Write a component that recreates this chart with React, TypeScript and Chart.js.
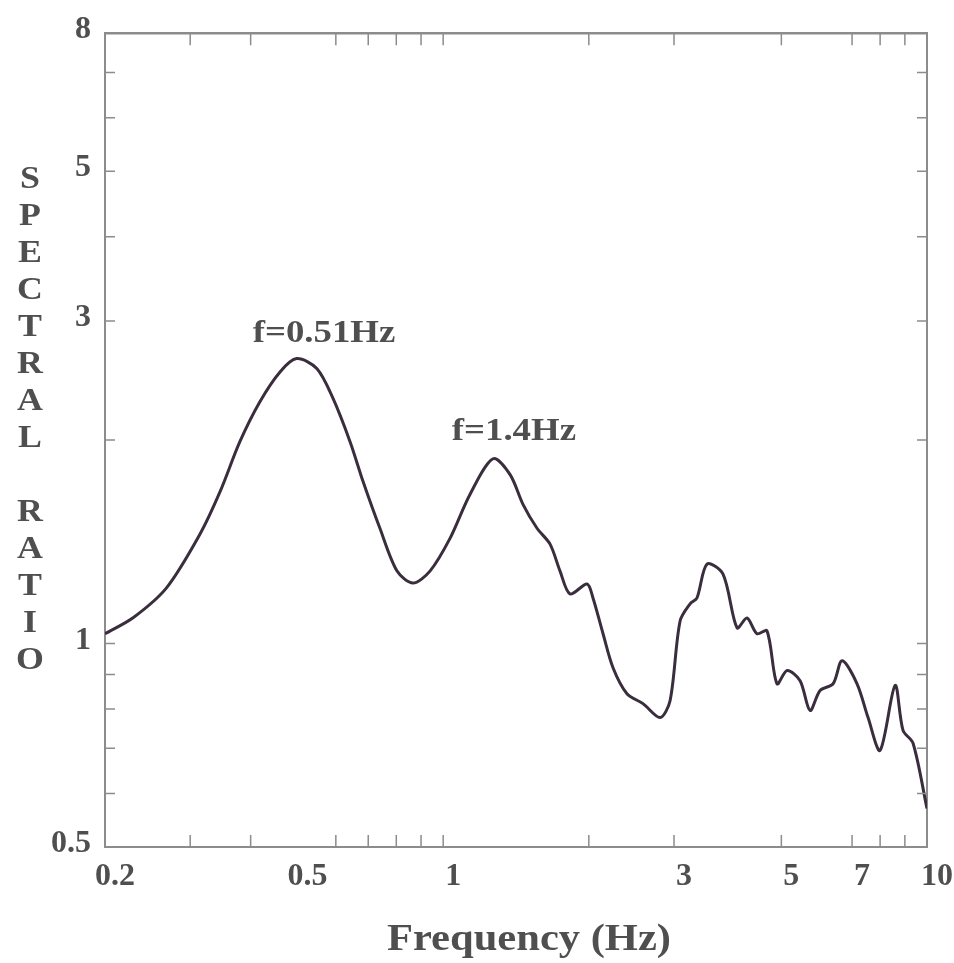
import React, { useEffect, useRef } from "react";
import { Chart, registerables } from "chart.js";

Chart.register(...registerables);

// ---- data ----
const freqHz = [
  0.2, 0.229, 0.268, 0.314, 0.346, 0.38, 0.418, 0.46, 0.498, 0.548, 0.592,
  0.642, 0.683, 0.74, 0.803, 0.866, 0.939, 1.033, 1.136, 1.268, 1.375, 1.462,
  1.563, 1.663, 1.744, 1.829, 1.983, 2.04, 2.14, 2.244, 2.398, 2.588, 2.808,
  2.944, 3.088, 3.238, 3.346, 3.51, 3.788, 4.05, 4.246, 4.454, 4.67, 4.898,
  5.138, 5.466, 5.732, 6.012, 6.396, 6.676, 7.168, 7.554, 7.998, 8.592, 8.922,
  9.358, 10,
];
const spectralRatio = [
  1.034, 1.093, 1.209, 1.45, 1.679, 1.989, 2.279, 2.523, 2.64, 2.552, 2.305,
  1.989, 1.737, 1.481, 1.28, 1.229, 1.28, 1.431, 1.662, 1.877, 1.778, 1.607,
  1.481, 1.403, 1.28, 1.184, 1.225, 1.168, 1.034, 0.921, 0.843, 0.815, 0.777,
  0.823, 1.08, 1.145, 1.168, 1.311, 1.267, 1.055, 1.091, 1.034, 1.044, 0.872,
  0.912, 0.881, 0.796, 0.852, 0.872, 0.943, 0.872, 0.777, 0.695, 0.867, 0.744,
  0.712, 0.57,
];

const xLabelValues = [0.2, 0.5, 1, 3, 5, 7, 10];
const xLabelTexts = ["0.2", "0.5", "1", "3", "5", "7", "10"];
const yLabelValues = [0.5, 1, 3, 5, 8];
const yLabelTexts = ["0.5", "1", "3", "5", "8"];
const xTickMarks = [0.3, 0.4, 0.6, 0.7, 0.8, 0.9, 1, 2, 3, 5, 7, 8, 9];
const yTickMarks = [0.6, 0.7, 0.8, 0.9, 1, 2, 3, 4, 5, 6, 7];

const peakLabels = ["f=0.51Hz", "f=1.4Hz"];
const peakLabelX = [0.567, 1.4];
const peakLabelY = [2.79, 2.0];

const yTitle = "SPECTRAL RATIO";
const xTitle = "Frequency (Hz)";

const AXIS = "#8c8c8c";
const TEXT = "#4f4f4f";
const LINE = "#3a2d3d";
const SERIF = '"Liberation Serif", "Times New Roman", serif';

const decorPlugin = {
  id: "decor",
  afterDraw(chart: any) {
    const { ctx, chartArea: ca, scales } = chart;
    const xs = scales.x;
    const ys = scales.y;
    ctx.save();
    ctx.strokeStyle = AXIS;
    ctx.lineWidth = 1.5;
    ctx.beginPath();
    xTickMarks.forEach((v) => {
      const p = xs.getPixelForValue(v);
      ctx.moveTo(p, ca.bottom);
      ctx.lineTo(p, ca.bottom - 12);
      ctx.moveTo(p, ca.top);
      ctx.lineTo(p, ca.top + 12);
    });
    yTickMarks.forEach((v) => {
      const p = ys.getPixelForValue(v);
      ctx.moveTo(ca.left, p);
      ctx.lineTo(ca.left + 10, p);
      ctx.moveTo(ca.right, p);
      ctx.lineTo(ca.right - 10, p);
    });
    ctx.stroke();

    // peak annotations
    ctx.fillStyle = TEXT;
    ctx.font = `bold 32px ${SERIF}`;
    ctx.textAlign = "center";
    ctx.textBaseline = "alphabetic";
    peakLabels.forEach((t, i) => {
      const px = xs.getPixelForValue(peakLabelX[i]);
      const py = ys.getPixelForValue(peakLabelY[i]);
      ctx.save();
      ctx.translate(px, py);
      ctx.scale(1.15, 1);
      ctx.fillText(t, 0, 0);
      ctx.restore();
    });

    // x-axis title
    ctx.font = `bold 38px ${SERIF}`;
    ctx.textBaseline = "middle";
    ctx.save();
    ctx.translate((ca.left + ca.right) / 2 + 13, 940);
    ctx.scale(1.12, 1);
    ctx.fillText(xTitle, 0, 0);
    ctx.restore();

    // stacked y-axis title
    ctx.font = `bold 32px ${SERIF}`;
    Array.from(yTitle).forEach((ch, i) => {
      if (ch === " ") return;
      ctx.save();
      ctx.translate(30, 180 + i * 37);
      ctx.scale(1.12, 1);
      ctx.fillText(ch, 0, 0);
      ctx.restore();
    });
    ctx.restore();
  },
};

export default function App() {
  const ref = useRef<HTMLCanvasElement | null>(null);

  useEffect(() => {
    document.body.style.margin = "0";
    const canvas = ref.current;
    if (!canvas) return;
    const tickFont = { family: SERIF, size: 32, weight: "bold" as const };
    const chart = new Chart(canvas, {
      type: "line",
      data: {
        datasets: [
          {
            data: freqHz.map((f, i) => ({ x: f, y: spectralRatio[i] })),
            borderColor: LINE,
            borderWidth: 3,
            pointRadius: 0,
            tension: 0.3,
            fill: false,
          },
        ],
      },
      options: {
        responsive: false,
        animation: false,
        layout: { padding: 0 },
        plugins: {
          legend: { display: false },
          tooltip: { enabled: false },
        },
        scales: {
          x: {
            type: "logarithmic",
            position: "bottom",
            min: 0.2,
            max: 10,
            afterBuildTicks: (s: any) => {
              s.ticks = xLabelValues.map((v) => ({ value: v }));
            },
            afterFit: (s: any) => {
              s.height = 116;
            },
            grid: { display: false, drawTicks: false },
            border: { display: true, color: AXIS, width: 2 },
            ticks: {
              autoSkip: false,
              maxRotation: 0,
              padding: 11,
              labelOffset: 10,
              color: TEXT,
              font: tickFont,
              callback: (v: any) => {
                const i = xLabelValues.findIndex((x) => Math.abs(x - Number(v)) < 1e-9);
                return i >= 0 ? xLabelTexts[i] : "";
              },
            },
          },
          x2: {
            type: "logarithmic",
            position: "top",
            min: 0.2,
            max: 10,
            afterFit: (s: any) => {
              s.height = 30;
            },
            grid: { display: false, drawTicks: false },
            border: { display: true, color: AXIS, width: 2.5 },
            ticks: { display: false },
          },
          y: {
            type: "logarithmic",
            position: "left",
            min: 0.5,
            max: 8,
            afterBuildTicks: (s: any) => {
              s.ticks = yLabelValues.map((v) => ({ value: v }));
            },
            afterFit: (s: any) => {
              s.width = 105;
            },
            grid: { display: false, drawTicks: false },
            border: { display: true, color: AXIS, width: 2 },
            ticks: {
              autoSkip: false,
              padding: 14,
              labelOffset: -3,
              color: TEXT,
              font: tickFont,
              callback: (v: any) => {
                const i = yLabelValues.findIndex((y) => Math.abs(y - Number(v)) < 1e-9);
                return i >= 0 ? yLabelTexts[i] : "";
              },
            },
          },
          y2: {
            type: "logarithmic",
            position: "right",
            min: 0.5,
            max: 8,
            afterFit: (s: any) => {
              s.width = 27;
            },
            grid: { display: false, drawTicks: false },
            border: { display: true, color: AXIS, width: 2 },
            ticks: { display: false },
          },
        },
      } as any,
      plugins: [decorPlugin],
    });
    return () => chart.destroy();
  }, []);

  return (
    <div style={{ position: "relative", width: 954, height: 963, background: "#fff" }}>
      <canvas
        ref={ref}
        width={954}
        height={963}
        style={{ position: "absolute", left: 0, top: 0, width: 954, height: 963 }}
      />
    </div>
  );
}
